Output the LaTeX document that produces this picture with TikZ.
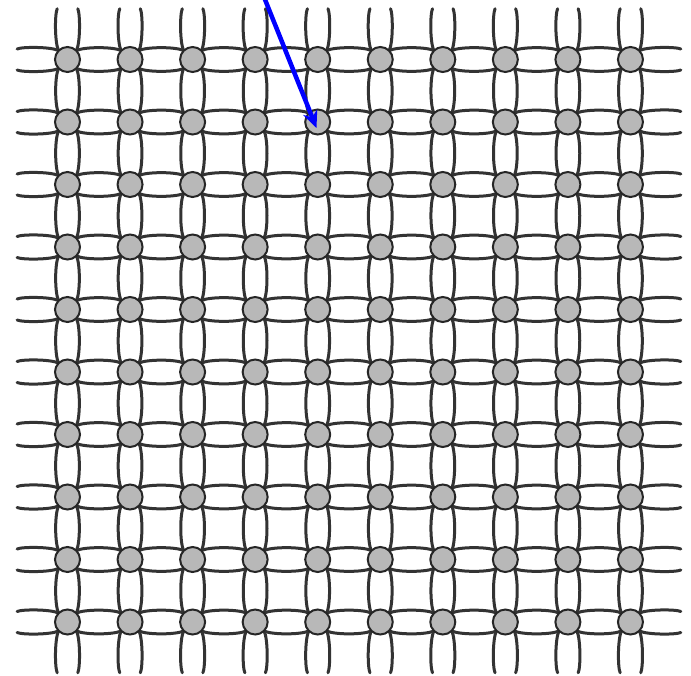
\documentclass[tikz,border=0pt]{standalone}
\usetikzlibrary{arrows.meta}
\begin{document}
\begin{tikzpicture}[x=1pt,y=-1pt,
  bond/.style={line width=3pt, draw=black!80, line cap=round},
  site/.style={circle, draw=black!85, line width=2pt, fill=black!28, minimum size=25pt, inner sep=0pt},
  pointer/.style={draw=blue, line width=4.5pt, -{Stealth[length=17pt,width=15pt]}}]
\useasboundingbox (0,0) rectangle (691,675);
\clip (0,0) rectangle (691,675);
\foreach \i in {0,...,11}{
  \foreach \j in {0,...,11}{
    \coordinate (p-\i-\j) at ({67.5+(\i-1)*62.55},{59.5+(\j-1)*62.5});
  }
}
% horizontal bonds
\foreach \i in {0,...,10}{
  \pgfmathtruncatemacro{\k}{\i+1}
  \pgfmathsetmacro{\sa}{\i==0 ? 3.5 : 0}
  \pgfmathsetmacro{\sb}{\i==10 ? 3.5 : 0}
  \foreach \j in {1,...,10}{
    \draw[bond, shorten <=\sa pt, shorten >=\sb pt] ([shift={(9,-9)}]p-\i-\j) .. controls ([shift={(17,-12.8)}]p-\i-\j) and ([shift={(-17,-12.8)}]p-\k-\j) .. ([shift={(-9,-9)}]p-\k-\j);
    \draw[bond, shorten <=\sa pt, shorten >=\sb pt] ([shift={(9,9)}]p-\i-\j) .. controls ([shift={(17,12.8)}]p-\i-\j) and ([shift={(-17,12.8)}]p-\k-\j) .. ([shift={(-9,9)}]p-\k-\j);
  }
}
% vertical bonds
\foreach \j in {0,...,10}{
  \pgfmathtruncatemacro{\k}{\j+1}
  \pgfmathsetmacro{\sa}{\j==0 ? 3 : 0}
  \pgfmathsetmacro{\sb}{\j==10 ? 3 : 0}
  \foreach \i in {1,...,10}{
    \draw[bond, shorten <=\sa pt, shorten >=\sb pt] ([shift={(-9,9)}]p-\i-\j) .. controls ([shift={(-12.8,17)}]p-\i-\j) and ([shift={(-12.8,-17)}]p-\i-\k) .. ([shift={(-9,-9)}]p-\i-\k);
    \draw[bond, shorten <=\sa pt, shorten >=\sb pt] ([shift={(9,9)}]p-\i-\j) .. controls ([shift={(12.8,17)}]p-\i-\j) and ([shift={(12.8,-17)}]p-\i-\k) .. ([shift={(9,-9)}]p-\i-\k);
  }
}
% sites
\foreach \i in {1,...,10}{
  \foreach \j in {1,...,10}{
    \node[site] (n-\i-\j) at (p-\i-\j) {};
  }
}
% pointer
\coordinate (src) at (262,-8);
\coordinate (tip) at (316.5,128);
\draw[pointer] (src) -- (tip);
\end{tikzpicture}
\end{document}
